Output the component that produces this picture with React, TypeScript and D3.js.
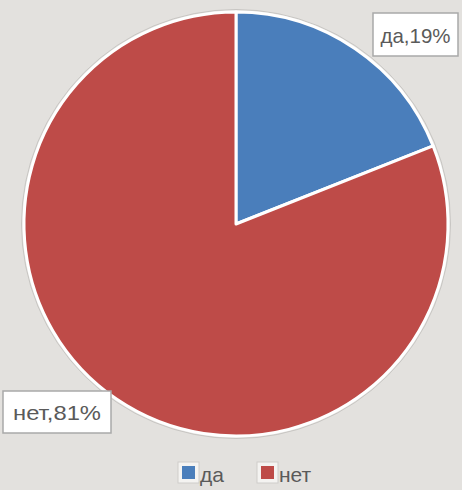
import React from "react";
import * as d3 from "d3";

const categories = ["да", "нет"];
const values = [19, 81];
const colors = ["#4a7ebb", "#be4b48"];
const labelText = ["да,19%", "нет,81%"];

export default function App() {
  const W = 462, H = 490;
  const cx = 236, cy = 224, R = 212;
  const pie = d3.pie<number>().sort(null).value((d) => d);
  const arcs = pie(values);
  const arc = d3.arc<d3.PieArcDatum<number>>().innerRadius(0).outerRadius(R);
  const labelBoxes = [
    { x: 373, y: 13, w: 85, h: 43, tw: 70 },
    { x: 3, y: 391, w: 108, h: 42, tw: 88 },
  ];
  const legendX = [178, 257];
  return (
    <svg width={W} height={H} style={{ position: "absolute", left: 0, top: 0, fontFamily: "Liberation Sans, Arial, sans-serif" }}>
      <rect x={0} y={0} width={W} height={H} fill="#e3e1de" />
      <circle cx={cx} cy={cy} r={R + 2.5} fill="none" stroke="#c8c6c3" strokeWidth={1} />
      <g transform={`translate(${cx},${cy})`}>
        {arcs.map((a, i) => (
          <path key={i} d={arc(a) || ""} fill={colors[i]} stroke="#ffffff" strokeWidth={3} strokeLinejoin="round" />
        ))}
      </g>
      {labelBoxes.map((b, i) => (
        <g key={i}>
          <rect x={b.x} y={b.y} width={b.w} height={b.h} fill="#ffffff" stroke="#a9a9a9" strokeWidth={1.5} />
          <text x={b.x + b.w / 2} y={b.y + b.h / 2 + 8} textAnchor="middle" fontSize={21} textLength={b.tw} lengthAdjust="spacingAndGlyphs" fill="#5a5a5a">
            {labelText[i]}
          </text>
        </g>
      ))}
      {categories.map((c, i) => {
        const lx = legendX[i];
        return (
          <g key={c}>
            <rect x={lx} y={462} width={21} height={21} fill="#f4f3f1" stroke="#cfcdca" strokeWidth={1} />
            <rect x={lx + 4} y={466} width={13} height={13} fill={colors[i]} />
            <text x={lx + 22} y={482} fontSize={21} fill="#5a5a5a">{c}</text>
          </g>
        );
      })}
    </svg>
  );
}
